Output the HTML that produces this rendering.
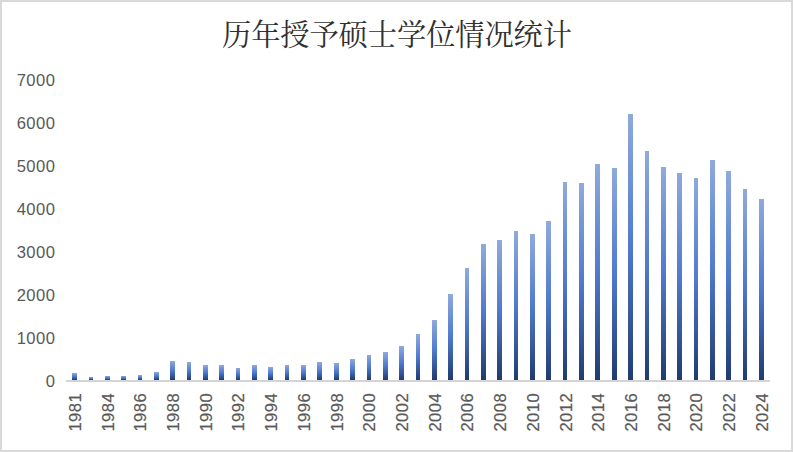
<!DOCTYPE html>
<html lang="zh">
<head>
<meta charset="utf-8">
<title>历年授予硕士学位情况统计</title>
<style>
html,body{margin:0;padding:0;background:#fff;}
body{width:794px;height:452px;overflow:hidden;font-family:"Liberation Sans",sans-serif;}
#chart{position:absolute;left:0;top:0;width:793px;height:452px;box-sizing:border-box;background:#fff;
  border:2px solid #d9d9d9;}
svg{position:absolute;left:-2px;top:-2px;display:block;}
svg text{font-family:"Liberation Sans",sans-serif;font-size:16.6px;fill:#595959;letter-spacing:0.45px;}
.yl text{text-anchor:end;}
.xl text{stroke:#595959;stroke-width:0.2px;}
</style>
</head>
<body>
<div id="chart">
<svg width="794" height="452" viewBox="0 0 794 452" role="img" aria-label="历年授予硕士学位情况统计">
<defs>
<linearGradient id="g" x1="0" y1="0" x2="0" y2="1">
<stop offset="0" stop-color="#8faadc"/>
<stop offset="0.5" stop-color="#4f7acf"/>
<stop offset="1" stop-color="#213b70"/>
</linearGradient>
</defs>
<text x="397" y="44.5" text-anchor="middle" textLength="350" lengthAdjust="spacing" style="font-family:'Liberation Serif','Noto Serif CJK SC',serif;font-size:29.3px;fill:#303030;letter-spacing:0;">历年授予硕士学位情况统计</text>
<rect x="66" y="380" width="704" height="2" fill="#d4d4d4"/>
<g fill="url(#g)">
<rect x="72" y="373" width="5" height="7"/>
<rect x="89" y="377" width="4" height="3"/>
<rect x="105" y="376" width="5" height="4"/>
<rect x="121" y="376" width="5" height="4"/>
<rect x="138" y="375" width="4" height="5"/>
<rect x="154" y="372" width="5" height="8"/>
<rect x="170" y="361" width="5" height="19"/>
<rect x="187" y="362" width="4" height="18"/>
<rect x="203" y="365" width="5" height="15"/>
<rect x="219" y="365" width="5" height="15"/>
<rect x="236" y="368" width="4" height="12"/>
<rect x="252" y="365" width="5" height="15"/>
<rect x="268" y="367" width="5" height="13"/>
<rect x="285" y="365" width="4" height="15"/>
<rect x="301" y="365" width="5" height="15"/>
<rect x="317" y="362" width="5" height="18"/>
<rect x="334" y="363" width="5" height="17"/>
<rect x="350" y="359" width="5" height="21"/>
<rect x="367" y="355" width="4" height="25"/>
<rect x="383" y="352" width="5" height="28"/>
<rect x="399" y="346" width="5" height="34"/>
<rect x="416" y="334" width="4" height="46"/>
<rect x="432" y="320" width="5" height="60"/>
<rect x="448" y="294" width="5" height="86"/>
<rect x="465" y="268" width="4" height="112"/>
<rect x="481" y="244" width="5" height="136"/>
<rect x="497" y="240" width="5" height="140"/>
<rect x="514" y="231" width="4" height="149"/>
<rect x="530" y="234" width="5" height="146"/>
<rect x="546" y="221" width="5" height="159"/>
<rect x="563" y="182" width="4" height="198"/>
<rect x="579" y="183" width="5" height="197"/>
<rect x="595" y="164" width="5" height="216"/>
<rect x="612" y="168" width="5" height="212"/>
<rect x="628" y="114" width="5" height="266"/>
<rect x="645" y="151" width="4" height="229"/>
<rect x="661" y="167" width="5" height="213"/>
<rect x="677" y="173" width="5" height="207"/>
<rect x="694" y="178" width="4" height="202"/>
<rect x="710" y="160" width="5" height="220"/>
<rect x="726" y="171" width="5" height="209"/>
<rect x="743" y="189" width="4" height="191"/>
<rect x="759" y="199" width="5" height="181"/>
</g>
<g class="yl">
<text x="55.4" y="386.8">0</text>
<text x="55.4" y="343.8">1000</text>
<text x="55.4" y="300.8">2000</text>
<text x="55.4" y="257.8">3000</text>
<text x="55.4" y="214.8">4000</text>
<text x="55.4" y="171.8">5000</text>
<text x="55.4" y="128.8">6000</text>
<text x="55.4" y="85.8">7000</text>
</g>
<g class="xl">
<text transform="translate(80.85 431.6) rotate(-90)">1981</text>
<text transform="translate(113.56 431.6) rotate(-90)">1984</text>
<text transform="translate(146.27 431.6) rotate(-90)">1986</text>
<text transform="translate(178.98 431.6) rotate(-90)">1988</text>
<text transform="translate(211.69 431.6) rotate(-90)">1990</text>
<text transform="translate(244.40 431.6) rotate(-90)">1992</text>
<text transform="translate(277.11 431.6) rotate(-90)">1994</text>
<text transform="translate(309.82 431.6) rotate(-90)">1996</text>
<text transform="translate(342.53 431.6) rotate(-90)">1998</text>
<text transform="translate(375.24 431.6) rotate(-90)">2000</text>
<text transform="translate(407.95 431.6) rotate(-90)">2002</text>
<text transform="translate(440.66 431.6) rotate(-90)">2004</text>
<text transform="translate(473.37 431.6) rotate(-90)">2006</text>
<text transform="translate(506.08 431.6) rotate(-90)">2008</text>
<text transform="translate(538.79 431.6) rotate(-90)">2010</text>
<text transform="translate(571.50 431.6) rotate(-90)">2012</text>
<text transform="translate(604.21 431.6) rotate(-90)">2014</text>
<text transform="translate(636.92 431.6) rotate(-90)">2016</text>
<text transform="translate(669.63 431.6) rotate(-90)">2018</text>
<text transform="translate(702.34 431.6) rotate(-90)">2020</text>
<text transform="translate(735.05 431.6) rotate(-90)">2022</text>
<text transform="translate(767.76 431.6) rotate(-90)">2024</text>
</g>
</svg>
</div>
</body>
</html>
